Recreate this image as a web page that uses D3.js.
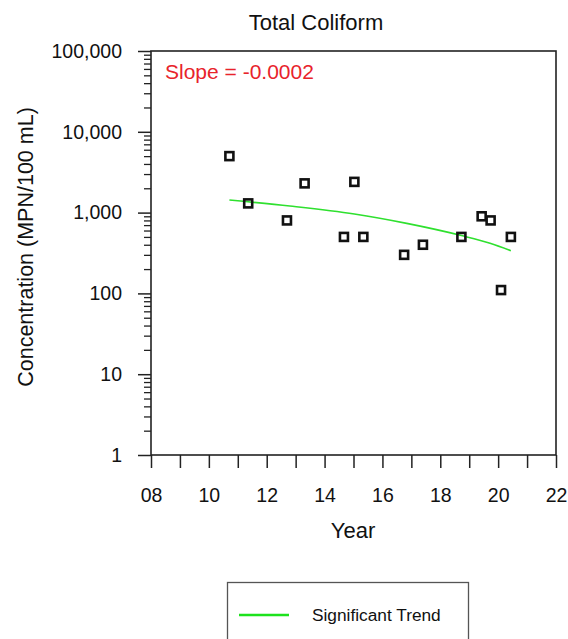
<!DOCTYPE html>
<html>
<head>
<meta charset="utf-8">
<script src="https://cdn.jsdelivr.net/npm/d3@7"></script>
<style>
  html, body { margin: 0; padding: 0; background: #fff; }
  svg { display: block; font-family: "Liberation Sans", Arial, sans-serif; }
</style>
</head>
<body>
<svg id="chart" width="568" height="639"></svg>
<script>
// Sample years (decimal) and Total Coliform concentrations (MPN/100 mL)
const sampleYears = [2010.71, 2011.36, 2012.70, 2013.31, 2014.67, 2015.03, 2015.34,
                     2016.75, 2017.40, 2018.73, 2019.43, 2019.74, 2020.10, 2020.44];
const sampleValues = [5000, 1300, 800, 2300, 500, 2400, 500,
                      300, 400, 500, 900, 800, 110, 500];

// Significant trend line (linear in concentration, shown on log axis)
const trendYears = [2010.71, 2012.80, 2015.03, 2016.84, 2018.73, 2019.72, 2020.44];
const trendValues = [1430, 1205, 960, 735, 520, 418, 338];

// Axis ticks
const xTickYears = d3.range(2008, 2023, 1);
const xTickLabels = ["08", "10", "12", "14", "16", "18", "20", "22"];
const yMajorTicks = [1, 10, 100, 1000, 10000, 100000];
const yTickLabels = ["1", "10", "100", "1,000", "10,000", "100,000"];

const titleText = "Total Coliform";
const yTitle = "Concentration (MPN/100 mL)";
const xTitle = "Year";
const slopeText = "Slope = -0.0002";
const legendLabel = "Significant Trend";

const svg = d3.select("#chart");
const plot = { left: 151, right: 556, top: 51, bottom: 455 };
const ink = "#222";
const green = "#2fe02f";

const x = d3.scaleLinear().domain([2008, 2022]).range([plot.left, plot.right]);
const y = d3.scaleLog().domain([1, 100000]).range([plot.bottom, plot.top]);

// Title
svg.append("text")
  .attr("x", 316).attr("y", 30)
  .attr("text-anchor", "middle")
  .attr("font-size", 22).attr("fill", "#111")
  .text(titleText);

// X axis ticks and labels
const xLabelMap = new Map(xTickYears.filter((d, i) => i % 2 === 0).map((d, i) => [d, xTickLabels[i]]));
const xAxis = svg.append("g")
  .attr("transform", `translate(0,${plot.bottom})`)
  .call(d3.axisBottom(x).tickValues(xTickYears).tickSize(13).tickPadding(20)
    .tickFormat(d => xLabelMap.get(d) || ""));
xAxis.select(".domain").remove();
xAxis.selectAll(".tick line").attr("stroke", ink).attr("stroke-width", 1.5);
xAxis.selectAll(".tick text").attr("font-size", 19.5).attr("fill", "#111")
  .attr("font-family", "Liberation Sans, Arial, sans-serif");

// Y axis minor ticks (2..9 per decade)
const yMinor = [];
yMajorTicks.slice(0, -1).forEach(p => { for (let k = 2; k <= 9; k++) yMinor.push(p * k); });
const yMinorAxis = svg.append("g")
  .attr("transform", `translate(${plot.left},0)`)
  .call(d3.axisLeft(y).tickValues(yMinor).tickSize(7).tickFormat(""));
yMinorAxis.select(".domain").remove();
yMinorAxis.selectAll(".tick line").attr("stroke", ink).attr("stroke-width", 1.3);

// Y axis major ticks and labels
const yLabelMap = new Map(yMajorTicks.map((d, i) => [d, yTickLabels[i]]));
const yAxis = svg.append("g")
  .attr("transform", `translate(${plot.left},0)`)
  .call(d3.axisLeft(y).tickValues(yMajorTicks).tickSize(13).tickPadding(16)
    .tickFormat(d => yLabelMap.get(d)));
yAxis.select(".domain").remove();
yAxis.selectAll(".tick line").attr("stroke", ink).attr("stroke-width", 1.5);
yAxis.selectAll(".tick text").attr("font-size", 19.5).attr("fill", "#111")
  .attr("font-family", "Liberation Sans, Arial, sans-serif");

// Plot frame
svg.append("rect")
  .attr("x", plot.left).attr("y", plot.top)
  .attr("width", plot.right - plot.left).attr("height", plot.bottom - plot.top)
  .attr("fill", "none").attr("stroke", ink).attr("stroke-width", 1.6);

// Axis titles
svg.append("text")
  .attr("x", 353).attr("y", 538)
  .attr("text-anchor", "middle")
  .attr("font-size", 22).attr("fill", "#111")
  .text(xTitle);
svg.append("text")
  .attr("transform", "translate(33,247) rotate(-90)")
  .attr("text-anchor", "middle")
  .attr("font-size", 21.5).attr("fill", "#111")
  .text(yTitle);

// Slope annotation
svg.append("text")
  .attr("x", 165).attr("y", 79)
  .attr("font-size", 21).attr("fill", "#e8232b")
  .text(slopeText);

// Trend line
const trendPts = trendYears.map((t, i) => [t, trendValues[i]]);
svg.append("path")
  .datum(trendPts)
  .attr("d", d3.line().x(d => x(d[0])).y(d => y(d[1])).curve(d3.curveMonotoneX))
  .attr("fill", "none").attr("stroke", green).attr("stroke-width", 1.6);

// Sample markers
const side = 8;
svg.append("g").selectAll("rect")
  .data(sampleYears.map((t, i) => [t, sampleValues[i]]))
  .join("rect")
  .attr("x", d => x(d[0]) - side / 2)
  .attr("y", d => y(d[1]) - side / 2)
  .attr("width", side).attr("height", side)
  .attr("fill", "none").attr("stroke", "#111").attr("stroke-width", 2.6);

// Legend
const legend = svg.append("g");
legend.append("rect")
  .attr("x", 227.5).attr("y", 582.5)
  .attr("width", 241).attr("height", 80)
  .attr("fill", "#fff").attr("stroke", "#555").attr("stroke-width", 1.3);
legend.append("line")
  .attr("x1", 239).attr("x2", 289).attr("y1", 615).attr("y2", 615)
  .attr("stroke", "#1de21d").attr("stroke-width", 2.6);
legend.append("text")
  .attr("x", 312).attr("y", 620.5)
  .attr("font-size", 17.3).attr("fill", "#111")
  .text(legendLabel);
</script>
</body>
</html>
